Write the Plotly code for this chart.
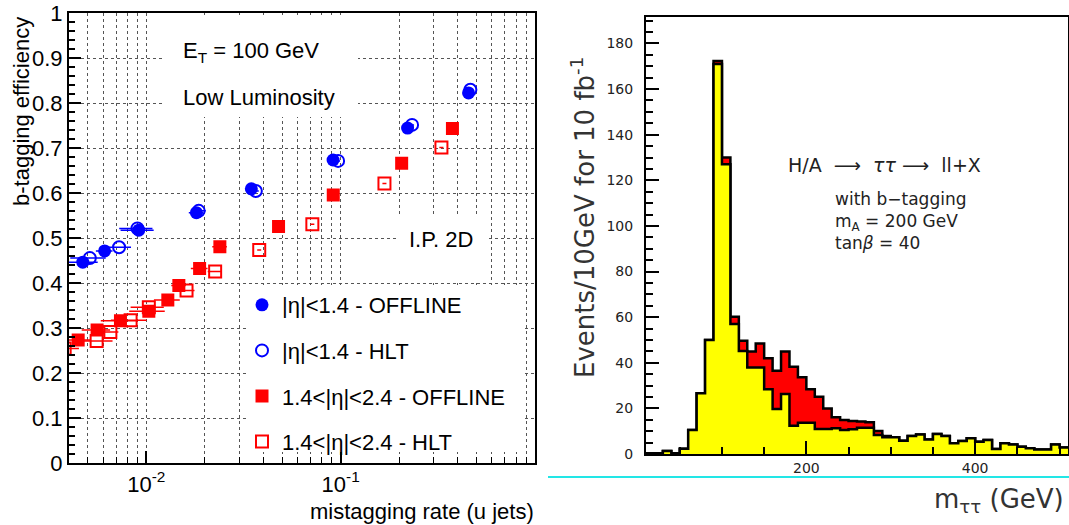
import math
import plotly.graph_objects as go

W, H = 1069, 525

# ---------------- Left panel data (b-tagging efficiency vs mistag rate) ----------------
blue_off_x = [0.00471, 0.0061, 0.00914, 0.0181, 0.0347, 0.0914, 0.221, 0.455]
blue_off_y = [0.447, 0.472, 0.518, 0.557, 0.610, 0.674, 0.745, 0.823]
blue_off_ex = [0.00091, 0.0006, 0.00177, 0.00156, 0.00125, 0.0033, 0.0053, 0.011]

blue_hlt_x = [0.00512, 0.00724, 0.0090, 0.0186, 0.0366, 0.097, 0.233, 0.465]
blue_hlt_y = [0.456, 0.480, 0.522, 0.561, 0.605, 0.672, 0.752, 0.830]
blue_hlt_ex = [0.00106, 0.0011, 0.00175, 0.0016, 0.0013, 0.0023, 0.0056, 0.011]

red_off_x = [0.00446, 0.00558, 0.00736, 0.0103, 0.0129, 0.0147, 0.0188, 0.0239, 0.0479, 0.0916, 0.206, 0.376]
red_off_y = [0.274, 0.296, 0.317, 0.338, 0.363, 0.395, 0.433, 0.481, 0.526, 0.596, 0.667, 0.744]
red_off_ex = [0.00068, 0.00093, 0.00153, 0.00214, 0.00196, 0.00126, 0.00186, 0.00206, 0.0017, 0.0022, 0.005, 0.009]

red_hlt_x = [0.0038, 0.00555, 0.00653, 0.0083, 0.0103, 0.0161, 0.0226, 0.0381, 0.0715, 0.168, 0.330]
red_hlt_y = [0.255, 0.272, 0.292, 0.318, 0.347, 0.384, 0.426, 0.474, 0.531, 0.622, 0.702]
red_hlt_ex = [0.0007, 0.00115, 0.00065, 0.00173, 0.002, 0.0016, 0.0019, 0.0009, 0.0017, 0.004, 0.008]

legend_names = ["|η|<1.4 - OFFLINE", "|η|<1.4 - HLT", "1.4<|η|<2.4 - OFFLINE", "1.4<|η|<2.4 - HLT"]

left_major_ticks = [0.01, 0.1]
left_major_text = ["10<sup>-2</sup>", "10<sup>-1</sup>"]
left_minor_ticks = [m * d for d in (0.001, 0.01, 0.1) for m in range(2, 10) if m * d >= 0.004]

# ---------------- Right panel data (m_tautau histogram) ----------------
mass_bin_low = list(range(10, 510, 10))
total_events = [0.3, 0.3, 1.3, 0.3, 2.3, 10.5, 26.6, 50.0, 172.3, 130.0,
                60.2, 49.7, 44.9, 48.5, 42.0, 36.5, 44.9, 38.3, 33.6, 28.4,
                25.1, 20.0, 16.1, 14.9, 14.5, 14.2, 13.9, 10.1, 7.9, 7.3,
                5.8, 7.9, 8.6, 6.4, 8.8, 7.9, 4.7, 5.7, 6.9, 5.4,
                6.1, 2.2, 4.7, 4.2, 3.2, 2.5, 2.0, 2.0, 4.2, 2.8]
yellow_events = [0.3, 0.3, 1.3, 0.3, 2.3, 10.5, 26.6, 50.0, 171.0, 127.0,
                 57.0, 45.2, 37.9, 37.9, 28.4, 19.7, 26.3, 12.4, 13.7, 13.7,
                 11.0, 11.0, 11.3, 10.5, 10.8, 11.5, 11.5, 8.3, 7.3, 7.3,
                 5.8, 7.9, 8.6, 6.4, 8.8, 7.9, 4.7, 5.7, 6.9, 5.4,
                 6.1, 2.2, 4.7, 4.2, 3.2, 2.5, 2.0, 2.0, 4.2, 2.8]
bin_width = 10


def fx(p):
    return p / W


def fy(p):
    return 1 - p / H


fig = go.Figure()

LFONT = "Liberation Sans, Arial, sans-serif"
RFONT = "DejaVu Sans, sans-serif"
BLUE = "#0000ff"
RED = "#ff0000"


def err(arr, color):
    return dict(type="data", array=arr, visible=True, color=color, thickness=1.5, width=0)


fig.add_trace(go.Scatter(x=blue_off_x, y=blue_off_y, mode="markers", name=legend_names[0],
                         legendgroup="g1", error_x=err(blue_off_ex, BLUE),
                         marker=dict(symbol="circle", size=13, color=BLUE)))
fig.add_trace(go.Scatter(x=blue_hlt_x, y=blue_hlt_y, mode="markers", name=legend_names[1],
                         legendgroup="g2", error_x=err(blue_hlt_ex, BLUE),
                         marker=dict(symbol="circle-open", size=12, color=BLUE, line=dict(width=2, color=BLUE))))
fig.add_trace(go.Scatter(x=red_off_x, y=red_off_y, mode="markers", name=legend_names[2],
                         legendgroup="g3", error_x=err(red_off_ex, RED),
                         marker=dict(symbol="square", size=13, color=RED)))
fig.add_trace(go.Scatter(x=red_hlt_x, y=red_hlt_y, mode="markers", name=legend_names[3],
                         legendgroup="g4", error_x=err(red_hlt_ex, RED),
                         marker=dict(symbol="square-open", size=12, color=RED, line=dict(width=2, color=RED))))

# histogram (step outlines with fill)
step_x = mass_bin_low + [mass_bin_low[-1] + bin_width]
fig.add_trace(go.Scatter(x=step_x, y=total_events + [total_events[-1]], mode="lines",
                         line=dict(shape="hv", color="black", width=2.5), fill="tozeroy",
                         fillcolor=RED, xaxis="x2", yaxis="y2", showlegend=False))
fig.add_trace(go.Scatter(x=step_x, y=yellow_events + [yellow_events[-1]], mode="lines",
                         line=dict(shape="hv", color="black", width=2.5), fill="tozeroy",
                         fillcolor="#ffff00", xaxis="x2", yaxis="y2", showlegend=False))

grid = dict(showgrid=True, gridcolor="#555555", griddash="dot", gridwidth=1)

fig.update_layout(
    width=W, height=H, margin=dict(l=0, r=0, t=0, b=0, pad=0, autoexpand=False),
    paper_bgcolor="white", plot_bgcolor="white",
    xaxis=dict(type="log", range=[math.log10(0.004), 0], domain=[fx(69), fx(535)], anchor="y",
               showline=True, linecolor="black", linewidth=2, mirror=True, automargin=False,
               ticks="inside", ticklen=12, tickwidth=1.5, tickcolor="black",
               tickmode="array", tickvals=left_major_ticks, ticktext=left_major_text,
               tickfont=dict(family=LFONT, size=22, color="black"), zeroline=False,
               minor=dict(tickmode="array", tickvals=left_minor_ticks, ticks="inside", ticklen=6,
                          tickcolor="black", tickwidth=1, **grid),
               **grid),
    yaxis=dict(range=[0, 1], domain=[fy(463.3), fy(13.3)], anchor="x", automargin=False,
               showline=True, linecolor="black", linewidth=2, mirror=True,
               ticks="inside", ticklen=12, tickwidth=1.5, tickcolor="black",
               tick0=0, dtick=0.1, tickfont=dict(family=LFONT, size=22, color="black"),
               zeroline=False,
               minor=dict(dtick=0.02, ticks="inside", ticklen=6, tickcolor="black", showgrid=False),
               **grid),
    xaxis2=dict(range=[10, 510], domain=[fx(646), fx(1068)], anchor="y2", automargin=False,
                showline=True, linecolor="black", linewidth=2, mirror=True,
                ticks="inside", ticklen=13, tickwidth=1.5, tickcolor="black",
                tick0=0, dtick=200, showgrid=False, zeroline=False,
                tickfont=dict(family=RFONT, size=14, color="#222222"),
                minor=dict(tick0=0, dtick=50, ticks="inside", ticklen=7, tickcolor="black")),
    yaxis2=dict(range=[0, 191.6], domain=[fy(454), fy(17)], anchor="x2", automargin=False,
                showline=True, linecolor="black", linewidth=2, mirror=True,
                ticks="inside", ticklen=13, tickwidth=1.5, tickcolor="black",
                tick0=0, dtick=20, showgrid=False, zeroline=False, ticklabelstandoff=8,
                tickfont=dict(family=RFONT, size=14, color="#222222"),
                minor=dict(tick0=0, dtick=5, ticks="inside", ticklen=7, tickcolor="black")),
    legend=dict(x=fx(242), y=fy(284), xanchor="left", yanchor="top", bgcolor="rgba(0,0,0,0)",
                borderwidth=0, font=dict(family=LFONT, size=22, color="black"),
                tracegroupgap=14, traceorder="grouped"),
)

# white panes hiding the grid under text boxes (left panel)
for (x0, y0, x1, y1) in [(162, 15, 358, 117), (398, 215, 487, 283), (248, 285, 524, 452)]:
    fig.add_shape(type="rect", xref="paper", yref="paper", x0=fx(x0), x1=fx(x1), y0=fy(y1), y1=fy(y0),
                  fillcolor="white", line=dict(width=0), layer="above")

# cyan separator line under right panel
fig.add_shape(type="line", xref="paper", yref="paper", x0=fx(548), x1=1, y0=fy(477), y1=fy(477),
              line=dict(color="#22e6e6", width=2), layer="above")


def ann(text, x, y, size, family, xanchor="left", angle=0, color="black"):
    fig.add_annotation(text=text, x=fx(x), y=fy(y), xref="paper", yref="paper", showarrow=False,
                       xanchor=xanchor, yanchor="middle", textangle=angle, align="left",
                       font=dict(family=family, size=size, color=color))


ann("b-tagging efficiency", 21, 112, 22, LFONT, xanchor="center", angle=-90)
ann("mistagging rate (u jets)", 536, 511, 22, LFONT, xanchor="right")
ann("E<sub>T</sub> = 100 GeV", 181, 52, 22, LFONT)
ann("Low Luminosity", 181, 97, 22, LFONT)
ann("I.P. 2D", 407, 240, 22, LFONT)

ann("Events/10GeV for 10 fb<sup>-1</sup>", 583, 218, 26, RFONT, xanchor="center", angle=-90, color="#333333")
ann("m<sub>ττ</sub> (GeV)", 1066, 500, 26, RFONT, xanchor="right", color="#333333")
ann("H/A  ⟶  <i>ττ</i> ⟶  ll+X", 786, 165, 19, RFONT, color="#222222")
ann("with b−tagging<br>m<sub>A</sub> = 200 GeV<br>tan<i>β</i> = 40", 833, 221, 17, RFONT, color="#222222")

fig.write_html("out.html", config={"displayModeBar": False},
               post_script="document.body.style.margin='0';document.body.style.overflow='hidden';")
